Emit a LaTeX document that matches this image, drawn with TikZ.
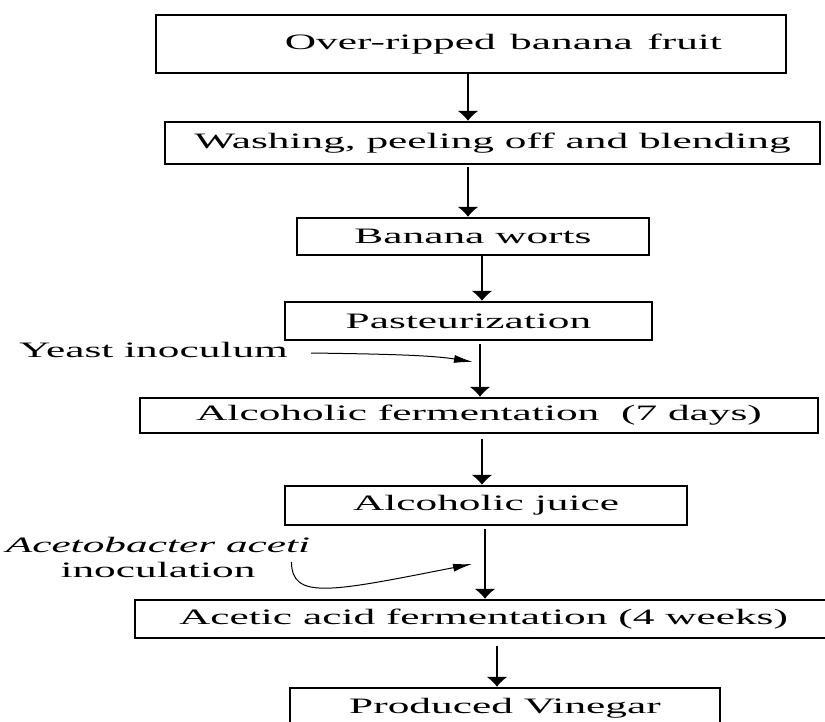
\documentclass[tikz,border=0pt]{standalone}
\usepackage{fontspec}
\setmainfont{Liberation Serif}
\usetikzlibrary{arrows.meta}

\newcommand{\wtxt}[1]{\scalebox{1.97}[1]{#1}}
\tikzstyle{stepbox}=[draw,line width=2.4pt,inner sep=0pt,font=\fontsize{22}{25}\selectfont]
\tikzstyle{note}=[inner sep=0pt,align=center,font=\fontsize{22}{25}\selectfont]
\tikzstyle{flow}=[line width=1.2pt,-{Latex[length=10pt,width=21pt]}]
\tikzstyle{side}=[line width=1pt,-{Latex[length=19pt,width=8pt]}]

\begin{document}
\begin{tikzpicture}[x=1pt,y=-1pt]
        \useasboundingbox (0,0) rectangle (825,722);
        % steps
        \node[stepbox,minimum height=58pt,text width=502pt,inner xsep=64pt,align=right] (s0) at (471,44) {\wtxt{Over-ripped banana fruit}};
        \node[stepbox,minimum width=655pt,minimum height=42pt] (s1) at (492.5,143) {\wtxt{Washing, peeling off and blending}};
        \node[stepbox,minimum width=352pt,minimum height=37pt] (s2) at (473,236.5) {\wtxt{Banana worts}};
        \node[stepbox,minimum width=367pt,minimum height=38pt] (s3) at (468.5,321) {\wtxt{Pasteurization}};
        \node[stepbox,minimum width=678pt,minimum height=35pt] (s4) at (479,415.5) {\wtxt{Alcoholic fermentation~ (7 days)}};
        \node[stepbox,minimum width=402pt,minimum height=39pt] (s5) at (486,505.5) {\wtxt{Alcoholic juice}};
        \node[stepbox,minimum width=697pt,minimum height=38pt] (s6) at (483.5,619) {\wtxt{Acetic acid fermentation (4 weeks)}};
        \node[stepbox,minimum width=430pt,minimum height=40pt] (s7) at (505,708) {\wtxt{Produced Vinegar}};
        % inoculations
        \node[note] (yeast) at (153.5,350) {\wtxt{Yeast inoculum}};
        \node[note] (aceto) at (158,557) {\wtxt{\itshape Acetobacter aceti}\\ \wtxt{inoculation}};
        \coordinate (yin) at (473,362);
        \coordinate (ain) at (472,564);

        \draw[flow] ([xshift=-3pt]s0.south) -- ([xshift=-24.5pt]s1.north);
        \draw[flow] ([xshift=-24.5pt,yshift=-2pt]s1.south) -- ([xshift=-5pt]s2.north);
        \draw[flow] ([xshift=9pt]s2.south) -- ([xshift=13.5pt]s3.north);
        \draw[flow] ([xshift=11.5pt,yshift=-3pt]s3.south) -- ([xshift=1pt]s4.north);
        \draw[flow] ([xshift=3pt,yshift=-5pt]s4.south) -- ([xshift=-4pt]s5.north);
        \draw[flow] ([xshift=-1pt,yshift=-3pt]s5.south) -- ([xshift=1.5pt]s6.north);
        \draw[flow] ([xshift=13.5pt,yshift=-7pt]s6.south) -- ([xshift=-8pt]s7.north);

        \draw[side] ([xshift=23pt,yshift=-3pt]yeast.east) .. controls (380,354) and (430,355) .. (yin);
        \draw[side] ([xshift=-19pt,yshift=-5pt]aceto.east) .. controls (292,600) and (330,592) .. (ain);
\end{tikzpicture}
\end{document}
